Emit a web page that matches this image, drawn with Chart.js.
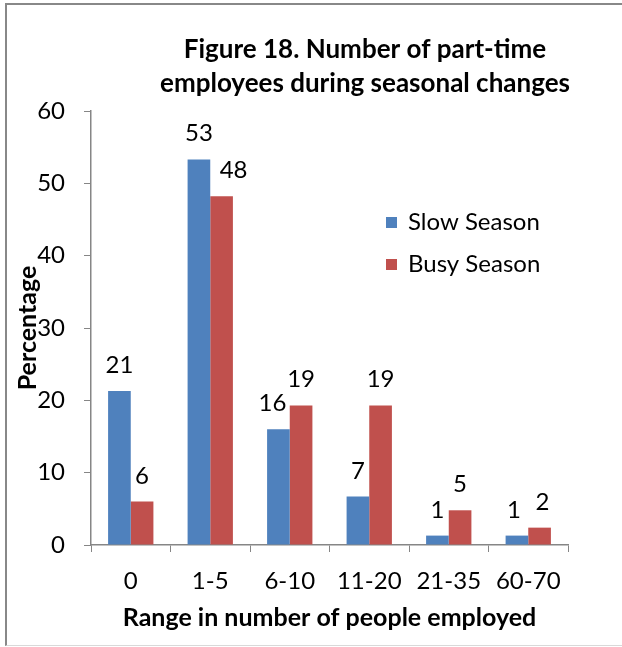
<!DOCTYPE html>
<html>
<head>
<meta charset="utf-8">
<script src="https://cdn.jsdelivr.net/npm/chart.js@4/dist/chart.umd.min.js"></script>
<style>
  html, body { margin: 0; padding: 0; background: #fff; overflow: hidden; }
  #wrap { position: relative; width: 622px; height: 647px; }
  #frame {
    position: absolute; left: 5px; top: 3px; width: 700px; height: 640px;
    border-top: 2px solid #888; border-left: 2px solid #888; border-bottom: 1px solid #d9d9d9;
  }
  canvas { position: absolute; left: 0; top: 0; }
</style>
</head>
<body>
<div id="wrap">
  <div id="frame"></div>
  <canvas id="chart" width="622" height="647"></canvas>
</div>
<script>
// Chart data
const categories = ['0', '1-5', '6-10', '11-20', '21-35', '60-70'];
const slowSeason = [21.3, 53.3, 16.0, 6.7, 1.3, 1.3];
const busySeason = [6.0, 48.2, 19.3, 19.3, 4.8, 2.4];
const seriesNames = ['Slow Season', 'Busy Season'];
const seriesColors = ['#4F81BD', '#C0504D'];
const titleLines = ['Figure 18. Number of part-time', 'employees during seasonal changes'];

const FONT = 'Lato, "Liberation Sans", sans-serif';
const axisGray = '#868686';

// small sideways shifts for labels that would collide (dataset-index: px)
const labelNudge = { '1-1': 12, '0-2': -6, '0-5': -3, '1-5': 3 };

// Draws title, legend and value labels
const extrasPlugin = {
  id: 'extras',
  afterDraw(chart) {
    const ctx = chart.ctx;
    ctx.save();

    // Title
    ctx.fillStyle = '#000';
    ctx.textAlign = 'center';
    ctx.textBaseline = 'middle';
    ctx.font = 'bold 26px ' + FONT;
    ctx.fillText(titleLines[0], 365, 50);
    ctx.fillText(titleLines[1], 365, 84);

    // Value labels above bars
    ctx.font = '24px ' + FONT;
    ctx.textBaseline = 'alphabetic';
    chart.data.datasets.forEach((ds, i) => {
      const meta = chart.getDatasetMeta(i);
      meta.data.forEach((bar, j) => {
        const dx = labelNudge[i + '-' + j] || 0;
        ctx.fillText(String(Math.round(ds.data[j])), bar.x + dx, bar.y - 18);
      });
    });

    // Legend
    ctx.textAlign = 'left';
    ctx.textBaseline = 'middle';
    seriesNames.forEach((name, i) => {
      const y = 222 + i * 42;
      ctx.fillStyle = seriesColors[i];
      ctx.fillRect(386, y - 5, 11, 11);
      ctx.fillStyle = '#000';
      ctx.fillText(name, 408, y);
    });

    ctx.restore();
  }
};

const ctx = document.getElementById('chart').getContext('2d');
new Chart(ctx, {
  type: 'bar',
  data: {
    labels: categories,
    datasets: [
      { label: seriesNames[0], data: slowSeason, backgroundColor: seriesColors[0] },
      { label: seriesNames[1], data: busySeason, backgroundColor: seriesColors[1] }
    ]
  },
  options: {
    responsive: false,
    animation: false,
    layout: { padding: { top: 111, right: 54, left: 0, bottom: 0 } },
    datasets: { bar: { categoryPercentage: 0.57, barPercentage: 1.0 } },
    plugins: {
      legend: { display: false },
      title: { display: false },
      tooltip: { enabled: false }
    },
    scales: {
      x: {
        grid: { drawOnChartArea: false, drawTicks: true, tickLength: 7, color: axisGray },
        border: { color: axisGray, width: 1.5 },
        ticks: { color: '#000', font: { family: FONT, size: 24 }, padding: 15 },
        title: {
          display: true, text: 'Range in number of people employed', color: '#000',
          font: { family: FONT, size: 25, weight: 'bold' }, padding: { top: 0, bottom: 14 }
        },
        afterFit(scale) { scale.height = 102; }
      },
      y: {
        min: 0, max: 60,
        grid: { drawOnChartArea: false, drawTicks: true, tickLength: 7, color: axisGray },
        border: { color: axisGray, width: 1.5 },
        ticks: { stepSize: 10, color: '#000', font: { family: FONT, size: 24 }, padding: 19 },
        title: {
          display: true, text: 'Percentage', color: '#000',
          font: { family: FONT, size: 25, weight: 'bold' }, padding: { top: 13, bottom: 0 }
        },
        afterFit(scale) { scale.width = 91; }
      }
    }
  },
  plugins: [extrasPlugin]
});
</script>
</body>
</html>
